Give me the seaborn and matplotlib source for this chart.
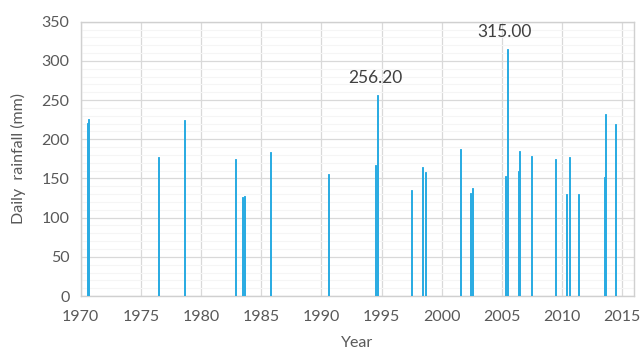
import numpy as np
import pandas as pd
import matplotlib
matplotlib.use("Agg")
import matplotlib.pyplot as plt
from matplotlib.ticker import MultipleLocator
import seaborn as sns

# daily rainfall peaks
years = [1970.55, 1970.68, 1976.43, 1978.65, 1982.85, 1983.48, 1983.62,
         1985.78, 1990.62, 1994.51, 1994.68, 1997.45, 1998.44, 1998.66,
         2001.56, 2002.42, 2002.59, 2005.33, 2005.43, 2006.38, 2006.48,
         2007.42, 2009.44, 2010.40, 2010.60, 2011.40, 2013.50, 2013.60,
         2014.45]
rainfall = [221, 226, 177, 224, 175, 126, 128,
            184, 156, 167, 256.2, 135, 164, 158,
            187, 132, 138, 153, 315.0, 160, 185,
            179, 175, 130, 178, 130, 152, 232,
            219]
labelled = {1994.68: "256.20", 2005.43: "315.00"}

df = pd.DataFrame({"Year": years, "rain": rainfall})

sns.set_theme(style="white")
plt.rcParams["font.family"] = ["Lato", "DejaVu Sans"]

fig = plt.figure(figsize=(6.42, 3.56), dpi=100)
ax = fig.add_axes([0.1257, 0.1685, 0.8623, 0.7705])

blue = "#29abe2"
bar_w = 0.08  # years
min_gap = np.diff(np.unique(df["Year"])).min()
sns.barplot(data=df, x="Year", y="rain", native_scale=True,
            width=bar_w / min_gap, color=blue, saturation=1,
            edgecolor=blue, linewidth=0.7, errorbar=None, ax=ax, zorder=3)

for yr, txt in labelled.items():
    val = df.loc[df["Year"] == yr, "rain"].iloc[0]
    ax.text(yr - 0.2, val + 12, txt, ha="center", va="bottom",
            fontsize=12.5, color="#404040")

ax.set_xlim(1970, 2016)
ax.set_ylim(0, 350)
ax.set_xticks(np.arange(1970, 2016, 5))
ax.yaxis.set_major_locator(MultipleLocator(50))
ax.yaxis.set_minor_locator(MultipleLocator(10))
ax.grid(which="major", color="#d9d9d9", linewidth=0.9, zorder=0)
ax.grid(which="minor", axis="y", color="#f5f5f5", linewidth=0.8, zorder=0)
ax.set_axisbelow(True)
for s in ax.spines.values():
    s.set_color("#d0d0d0")
    s.set_linewidth(1.0)

ax.tick_params(axis="x", which="both", length=0, labelsize=11.5,
               labelcolor="#595959", pad=10)
ax.tick_params(axis="y", which="both", length=0, labelsize=11.5,
               labelcolor="#595959", pad=8)
ax.set_xlabel("Year", fontsize=11.5, color="#595959", labelpad=9)
ax.set_ylabel("Daily  rainfall (mm)", fontsize=11.5, color="#595959", labelpad=11)

fig.savefig("out.png", dpi=100)
